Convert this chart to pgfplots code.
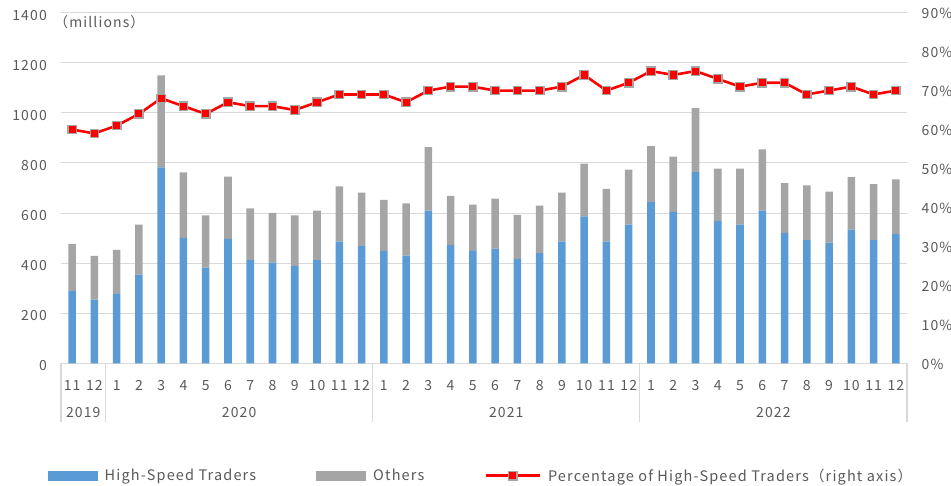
\documentclass[border=0pt]{standalone}
\usepackage{fontspec}
\setmainfont[LetterSpace=8]{Noto Sans CJK JP}
\usepackage{pgfplots}
\usepackage{pgfplotstable}
\pgfplotsset{compat=1.18}
\definecolor{hsblue}{HTML}{5B9BD5}
\definecolor{othgray}{HTML}{A5A5A5}
\definecolor{gridc}{HTML}{D9D9D9}
\definecolor{txt}{HTML}{595959}
\pgfplotstableread{
x hst oth pct
0 288 189 60
1 255 174 59
2 277 176 61
3 354 200 64
4 782 367 68
5 501 261 66
6 382 209 64
7 497 248 67
8 412 207 66
9 402 199 66
10 388 203 65
11 412 198 67
12 486 220 69
13 468 214 69
14 449 204 69
15 430 209 67
16 610 253 70
17 473 196 71
18 449 185 71
19 458 200 70
20 417 176 70
21 440 190 70
22 486 196 71
23 587 210 74
24 486 211 70
25 554 219 72
26 645 222 75
27 605 220 74
28 763 256 75
29 569 208 73
30 554 223 71
31 610 244 72
32 521 198 72
33 492 218 69
34 482 204 70
35 534 209 71
36 492 223 69
37 516 218 70
}\data
\begin{document}
\begin{tikzpicture}
\useasboundingbox (0pt,0pt) rectangle (951pt,485pt);
\begin{axis}[
  at={(61pt,121.6pt)}, anchor=south west,
  scale only axis, width=846pt, height=350.8pt,
  xmin=-0.5, xmax=37.5, ymin=0, ymax=1400,
  ybar stacked, bar width=0.34,
  axis line style={draw=none},
  tick style={draw=none},
  ytick={0,200,...,1400},
  ymajorgrids, grid style={gridc, line width=1.1pt},
  xtick={0,...,37},
  xticklabels={11,12,1,2,3,4,5,6,7,8,9,10,11,12,1,2,3,4,5,6,7,8,9,10,11,12,1,2,3,4,5,6,7,8,9,10,11,12},
  /pgf/number format/assume math mode=true,
  /pgf/number format/1000 sep={},
  yticklabel style={anchor=east, inner sep=0pt, xshift=-14pt, yshift=-2.5pt, font=\fontsize{14}{16}\selectfont, text=txt},
  xticklabel style={anchor=north, inner sep=0pt, yshift=-17pt, font=\fontsize{14}{16}\selectfont, text=txt},
  clip=false,
]
\addplot[fill=hsblue, draw=none] table[x=x, y=hst]{\data};
\addplot[fill=othgray, draw=none] table[x=x, y=oth]{\data};
\draw[gridc, line width=1.1pt] (axis cs:-0.5,0) -- ++(0pt,-58.5pt);
\draw[gridc, line width=1.1pt] (axis cs:1.5,0) -- ++(0pt,-58.5pt);
\draw[gridc, line width=1.1pt] (axis cs:13.5,0) -- ++(0pt,-58.5pt);
\draw[gridc, line width=1.1pt] (axis cs:25.5,0) -- ++(0pt,-58.5pt);
\draw[gridc, line width=1.1pt] (axis cs:37.5,0) -- ++(0pt,-58.5pt);
\node[text=txt, font=\fontsize{14}{16}\selectfont, inner sep=0pt] at ([yshift=-49.3pt]axis cs:0.5,0) {2019};
\node[text=txt, font=\fontsize{14}{16}\selectfont, inner sep=0pt] at ([yshift=-49.3pt]axis cs:7.5,0) {2020};
\node[text=txt, font=\fontsize{14}{16}\selectfont, inner sep=0pt] at ([yshift=-49.3pt]axis cs:19.5,0) {2021};
\node[text=txt, font=\fontsize{14}{16}\selectfont, inner sep=0pt] at ([yshift=-49.3pt]axis cs:31.5,0) {2022};
\node[anchor=west, text=txt, font=\fontsize{14}{16}\selectfont, inner sep=0pt] at ([xshift=-7pt, yshift=-9.5pt]axis cs:-0.5,1400) {（millions）};
\end{axis}
\begin{axis}[
  at={(61pt,121.6pt)}, anchor=south west,
  scale only axis, width=846pt, height=350.8pt,
  xmin=-0.5, xmax=37.5, ymin=0, ymax=90,
  axis line style={draw=none},
  tick style={draw=none},
  xtick=\empty,
  ytick={0,10,...,90},
  ytick pos=right, yticklabel pos=right,
  yticklabel={\pgfmathprintnumber{\tick}\%},
  /pgf/number format/assume math mode=true,
  yticklabel style={anchor=west, inner sep=0pt, xshift=14.5pt, yshift=-1pt, font=\fontsize{14}{16}\selectfont, text=txt},
  legend columns=3,
  legend style={at={(axis description cs:0.4964,-0.320)}, anchor=center, draw=none, fill=none,
    font=\fontsize{14.5}{16}\selectfont, text=txt,
    /tikz/every even column/.append style={column sep=58pt},
    /tikz/every odd column/.append style={column sep=5pt}},
]
\addlegendimage{fill=hsblue, draw=none, legend image code/.code={\fill[hsblue] (0pt,-5pt) rectangle (50pt,5pt);}}
\addlegendentry{High-Speed Traders}
\addlegendimage{fill=othgray, draw=none, legend image code/.code={\fill[othgray] (0pt,-5pt) rectangle (50pt,5pt);}}
\addlegendentry{Others}
\addplot[red, line width=2.6pt, mark=square*, mark size=4.2pt,
  mark options={fill=red, draw=othgray, line width=1.3pt, solid},
  legend image code/.code={\draw[sharp plot, red, line width=2.6pt, mark=square*, mark size=4.2pt, mark options={fill=red, draw=othgray, line width=1.3pt, solid}, mark repeat=2, mark phase=2] plot coordinates {(0pt,0pt) (27pt,0pt) (54pt,0pt)};}]
  table[x=x, y=pct]{\data};
\addlegendentry{Percentage of High-Speed Traders（right axis）}
\end{axis}
\end{tikzpicture}
\end{document}
